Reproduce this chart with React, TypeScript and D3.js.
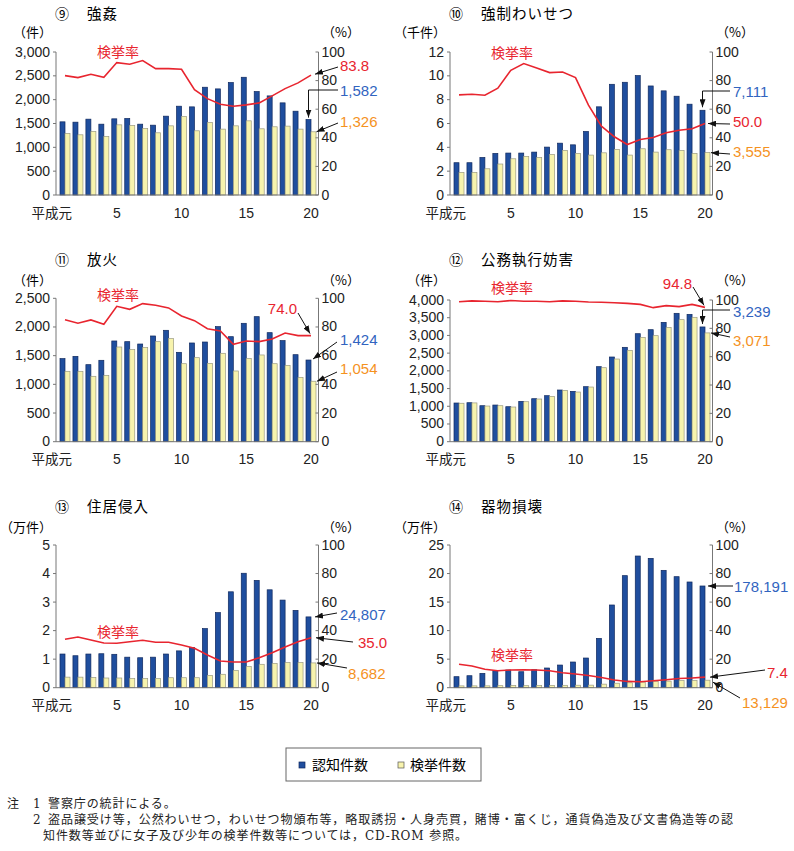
import React from "react";
import * as d3 from "d3";

// 平成元年〜20年
const YEARS = [1, 2, 3, 4, 5, 6, 7, 8, 9, 10, 11, 12, 13, 14, 15, 16, 17, 18, 19, 20];
const X_TICK_YEARS = [1, 5, 10, 15, 20];
const X_TICK_LABELS = ["平成元", "5", "10", "15", "20"];

// ⑨ 強姦
const RAPE_KNOWN = [1535, 1528, 1591, 1486, 1598, 1605, 1486, 1465, 1654, 1863, 1849, 2261, 2226, 2359, 2470, 2170, 2079, 1933, 1758, 1582];
const RAPE_CLEARED = [1291, 1263, 1333, 1228, 1472, 1458, 1396, 1305, 1451, 1647, 1347, 1521, 1382, 1451, 1556, 1389, 1431, 1445, 1382, 1326];
const RAPE_RATE = [83.5, 82.1, 84.4, 82.3, 92.6, 91.4, 94.0, 88.4, 88.4, 87.9, 73.7, 67.4, 63.5, 62.1, 63.0, 64.4, 69.3, 74.4, 78.4, 83.8];

// ⑩ 強制わいせつ
const INDECENT_KNOWN = [2710, 2710, 3150, 3490, 3520, 3520, 3600, 4020, 4350, 4210, 5330, 7400, 9290, 9460, 10020, 9150, 8740, 8290, 7620, 7111];
const INDECENT_CLEARED = [1900, 1900, 2200, 2600, 3040, 3240, 3150, 3400, 3740, 3490, 3350, 3540, 3820, 3350, 3880, 3600, 3800, 3740, 3490, 3555];
const INDECENT_RATE = [70.0, 70.5, 69.8, 74.7, 87.2, 91.9, 88.8, 85.6, 86.0, 82.1, 62.8, 48.1, 40.7, 35.3, 38.8, 40.2, 43.5, 45.3, 46.3, 50.0];

// ⑪ 放火
const ARSON_KNOWN = [1448, 1488, 1343, 1419, 1756, 1744, 1703, 1843, 1942, 1558, 1721, 1738, 2006, 1831, 2064, 2180, 1901, 1762, 1517, 1424];
const ARSON_CLEARED = [1227, 1227, 1140, 1157, 1651, 1605, 1640, 1744, 1797, 1360, 1465, 1366, 1541, 1233, 1448, 1512, 1360, 1331, 1122, 1054];
const ARSON_RATE = [85.1, 82.6, 84.9, 81.9, 94.4, 92.3, 96.3, 95.1, 93.3, 87.7, 84.4, 78.8, 77.2, 67.9, 70.2, 69.8, 71.6, 75.8, 74.0, 74.0];

// ⑫ 公務執行妨害
const OBSTRUCT_KNOWN = [1092, 1101, 1016, 1035, 988, 1139, 1214, 1299, 1459, 1421, 1553, 2118, 2391, 2664, 3049, 3162, 3369, 3624, 3595, 3239];
const OBSTRUCT_CLEARED = [1085, 1095, 1007, 1016, 979, 1129, 1205, 1280, 1449, 1402, 1543, 2089, 2334, 2579, 2946, 2993, 3228, 3445, 3511, 3071];
const OBSTRUCT_RATE = [98.8, 99.4, 99.1, 98.8, 99.6, 99.1, 99.1, 98.8, 99.4, 99.1, 98.6, 98.4, 98.1, 97.6, 96.9, 94.6, 96.0, 95.3, 96.9, 94.8];

// ⑬ 住居侵入
const TRESPASS_KNOWN = [11800, 11200, 11800, 11900, 11700, 10700, 10500, 10700, 11800, 12900, 14100, 20700, 26300, 33600, 40100, 37600, 34300, 30700, 27100, 24807];
const TRESPASS_CLEARED = [3700, 3700, 3600, 3400, 3400, 3200, 3200, 3200, 3500, 3500, 3500, 4300, 4700, 6000, 7400, 8200, 8500, 8800, 8800, 8682];
const TRESPASS_RATE = [33.9, 35.5, 33.4, 31.3, 31.1, 32.2, 33.2, 31.8, 31.8, 29.9, 27.6, 22.9, 18.7, 18.0, 18.0, 21.0, 24.5, 28.5, 32.2, 35.0];

// ⑭ 器物損壊
const DAMAGE_KNOWN = [19300, 21000, 25100, 29800, 31000, 28000, 31500, 34500, 39700, 45000, 52000, 86400, 144900, 196300, 230700, 226600, 205600, 194500, 185200, 178191];
const DAMAGE_CLEARED = [3170, 3190, 3240, 3550, 3840, 3530, 3910, 4110, 4170, 4320, 4470, 6220, 7830, 8640, 9690, 11100, 11510, 12640, 12590, 13129];
const DAMAGE_RATE = [16.4, 15.2, 12.9, 11.9, 12.4, 12.6, 12.4, 11.9, 10.5, 9.6, 8.6, 7.2, 5.4, 4.4, 4.2, 4.9, 5.6, 6.5, 6.8, 7.4];

const BLUE = "#1f4e9e";
const BLUE_EDGE = "#10295e";
const YELLOW = "#f7f3ad";
const YELLOW_EDGE = "#9a9a82";
const RED = "#e8252f";
const BLUE_TXT = "#3164c0";
const ORANGE = "#f5921e";
const AXIS = "#777";

const NUM = "'Liberation Sans', Arial, 'Noto Sans CJK JP', sans-serif";
const JP = "'Noto Sans CJK JP', 'Liberation Sans', sans-serif";

type Target = "rate" | "blue" | "yellow";
interface Ann {
  label: string;
  color: string;
  tx: number;
  ty: number;
  anchor?: "start" | "end";
  from: [number, number];
  target: Target;
  dx: number;
  dy: number;
  elbow?: boolean;
}
interface Panel {
  no: string;
  title: string;
  unit: string;
  divisor: number;
  max: number;
  tickCount: number;
  known: number[];
  cleared: number[];
  rate: number[];
  ox: number;
  top: number;
  bottom: number;
  titleY: number;
  unitY: number;
  rateLabel: [number, number];
  anns: Ann[];
}

const PANELS: Panel[] = [
  {
    no: "⑨", title: "強姦", unit: "（件）", divisor: 1, max: 3000, tickCount: 6,
    known: RAPE_KNOWN, cleared: RAPE_CLEARED, rate: RAPE_RATE,
    ox: 0, top: 52, bottom: 195, titleY: 14, unitY: 32, rateLabel: [118, 52],
    anns: [
      { label: "83.8", color: RED, tx: 340, ty: 65, from: [338, 67], target: "rate", dx: 4, dy: -1 },
      { label: "1,582", color: BLUE_TXT, tx: 340, ty: 90, from: [338, 90], target: "blue", dx: -2.5, dy: -2, elbow: true },
      { label: "1,326", color: ORANGE, tx: 340, ty: 121, from: [338, 123], target: "yellow", dx: 5.5, dy: 0 },
    ],
  },
  {
    no: "⑩", title: "強制わいせつ", unit: "（千件）", divisor: 1000, max: 12, tickCount: 6,
    known: INDECENT_KNOWN, cleared: INDECENT_CLEARED, rate: INDECENT_RATE,
    ox: 394, top: 52, bottom: 195, titleY: 14, unitY: 32, rateLabel: [118, 53],
    anns: [
      { label: "7,111", color: BLUE_TXT, tx: 339, ty: 91, from: [336, 91], target: "blue", dx: -2.5, dy: -3, elbow: true },
      { label: "50.0", color: RED, tx: 339, ty: 121, from: [336, 124], target: "rate", dx: 3, dy: 0 },
      { label: "3,555", color: ORANGE, tx: 339, ty: 151, from: [336, 154], target: "yellow", dx: 6, dy: 0 },
    ],
  },
  {
    no: "⑪", title: "放火", unit: "（件）", divisor: 1, max: 2500, tickCount: 5,
    known: ARSON_KNOWN, cleared: ARSON_CLEARED, rate: ARSON_RATE,
    ox: 0, top: 298.3, bottom: 441.7, titleY: 260, unitY: 280, rateLabel: [118, 295],
    anns: [
      { label: "74.0", color: RED, tx: 297, ty: 308, anchor: "end", from: [298, 313], target: "rate", dx: -1, dy: -2 },
      { label: "1,424", color: BLUE_TXT, tx: 340, ty: 339, from: [337, 342], target: "blue", dx: 2, dy: -1 },
      { label: "1,054", color: ORANGE, tx: 340, ty: 368, from: [337, 372], target: "yellow", dx: 6, dy: 0 },
    ],
  },
  {
    no: "⑫", title: "公務執行妨害", unit: "（件）", divisor: 1, max: 4000, tickCount: 8,
    known: OBSTRUCT_KNOWN, cleared: OBSTRUCT_CLEARED, rate: OBSTRUCT_RATE,
    ox: 394, top: 300, bottom: 441.7, titleY: 260, unitY: 280, rateLabel: [118, 288],
    anns: [
      { label: "94.8", color: RED, tx: 298, ty: 283, anchor: "end", from: [299, 287], target: "rate", dx: -1, dy: -2 },
      { label: "3,239", color: BLUE_TXT, tx: 339, ty: 311, from: [336, 310], target: "blue", dx: -2.5, dy: -3, elbow: true },
      { label: "3,071", color: ORANGE, tx: 339, ty: 340, from: [336, 337], target: "yellow", dx: 6, dy: 0 },
    ],
  },
  {
    no: "⑬", title: "住居侵入", unit: "（万件）", divisor: 10000, max: 5, tickCount: 5,
    known: TRESPASS_KNOWN, cleared: TRESPASS_CLEARED, rate: TRESPASS_RATE,
    ox: 0, top: 545, bottom: 687.7, titleY: 507, unitY: 527, rateLabel: [118, 632],
    anns: [
      { label: "24,807", color: BLUE_TXT, tx: 340, ty: 614, from: [337, 613], target: "blue", dx: 4, dy: 0 },
      { label: "35.0", color: RED, tx: 358, ty: 642, from: [353, 642], target: "rate", dx: 5, dy: 0 },
      { label: "8,682", color: ORANGE, tx: 348, ty: 673, from: [347, 668], target: "yellow", dx: 6, dy: 0 },
    ],
  },
  {
    no: "⑭", title: "器物損壊", unit: "（万件）", divisor: 10000, max: 25, tickCount: 5,
    known: DAMAGE_KNOWN, cleared: DAMAGE_CLEARED, rate: DAMAGE_RATE,
    ox: 394, top: 545, bottom: 687.7, titleY: 507, unitY: 527, rateLabel: [118, 655],
    anns: [
      { label: "178,191", color: BLUE_TXT, tx: 340, ty: 586, from: [339, 586], target: "blue", dx: 3, dy: 0 },
      { label: "7.4", color: RED, tx: 373, ty: 672, from: [371, 670], target: "rate", dx: 5, dy: 0 },
      { label: "13,129", color: ORANGE, tx: 348, ty: 702, from: [346, 698], target: "yellow", dx: 8, dy: 2 },
    ],
  },
];

const AXIS_L = 56;
const AXIS_R = 318.5;

function ChartPanel({ p }: { p: Panel }) {
  const L = p.ox + AXIS_L;
  const R = p.ox + AXIS_R;
  const x = d3.scalePoint<number>().domain(YEARS).range([L + 9, R - 7.5]);
  const yL = d3.scaleLinear().domain([0, p.max]).range([p.bottom, p.top]);
  const yR = d3.scaleLinear().domain([0, 100]).range([p.bottom, p.top]);
  const fmt = d3.format(",");
  const line = d3
    .line<number>()
    .x((_, i) => x(YEARS[i]) as number)
    .y((d) => yR(d));
  const last = YEARS.length - 1;
  const cLast = x(YEARS[last]) as number;

  const targetPt = (a: Ann): [number, number] => {
    let v = 0;
    if (a.target === "rate") v = yR(p.rate[last]);
    else if (a.target === "blue") v = yL(p.known[last] / p.divisor);
    else v = yL(p.cleared[last] / p.divisor);
    return [cLast + a.dx, v + a.dy];
  };

  return (
    <g>
      {/* title */}
      <text x={p.ox + 62} y={p.titleY + 5} fontFamily={JP} fontSize={14} textAnchor="middle">{p.no}</text>
      <text x={p.ox + 87} y={p.titleY + 5} fontFamily={JP} fontSize={14.5} letterSpacing={1}>{p.title}</text>
      <text x={p.ox + 52} y={p.unitY + 5} fontFamily={JP} fontSize={13} textAnchor="end">{p.unit}</text>
      <text x={p.ox + 322} y={p.unitY + 5} fontFamily={JP} fontSize={13}>（%）</text>

      {/* bars */}
      {YEARS.map((yr, i) => {
        const c = x(yr) as number;
        const hb = yL(p.known[i] / p.divisor);
        const hy = yL(p.cleared[i] / p.divisor);
        return (
          <g key={yr}>
            <rect x={c - 5} y={hb} width={5} height={p.bottom - hb} fill={BLUE} stroke={BLUE_EDGE} strokeWidth={0.7} />
            <rect x={c} y={hy} width={5} height={p.bottom - hy} fill={YELLOW} stroke={YELLOW_EDGE} strokeWidth={0.7} />
          </g>
        );
      })}

      {/* axes */}
      <line x1={L} x2={L} y1={p.top} y2={p.bottom} stroke={AXIS} />
      <line x1={R} x2={R} y1={p.top} y2={p.bottom} stroke={AXIS} />
      <line x1={L} x2={R} y1={p.bottom} y2={p.bottom} stroke={AXIS} />
      {yL.ticks(p.tickCount).map((t) => (
        <g key={"l" + t}>
          <line x1={L - 3} x2={L} y1={yL(t)} y2={yL(t)} stroke={AXIS} />
          <text x={L - 6} y={yL(t) + 4.5} fontFamily={NUM} fontSize={14} textAnchor="end" fill="#222">{fmt(t)}</text>
        </g>
      ))}
      {yR.ticks(5).map((t) => (
        <g key={"r" + t}>
          <line x1={R - 3} x2={R} y1={yR(t)} y2={yR(t)} stroke={AXIS} />
          <text x={R + 3} y={yR(t) + 4.5} fontFamily={NUM} fontSize={14} fill="#222">{t}</text>
        </g>
      ))}
      {X_TICK_YEARS.map((yr, i) => (
        <text
          key={"x" + yr}
          x={(x(yr) as number) + (i === 0 ? 7 : 0)}
          y={p.bottom + 22.5}
          fontFamily={i === 0 ? JP : NUM}
          fontSize={i === 0 ? 13.5 : 14}
          textAnchor={i === 0 ? "end" : "middle"}
          fill="#222"
        >
          {X_TICK_LABELS[i]}
        </text>
      ))}

      {/* rate line */}
      <path d={line(p.rate) || ""} fill="none" stroke={RED} strokeWidth={1.6} />
      <text x={p.ox + p.rateLabel[0]} y={p.rateLabel[1] + 5} fontFamily={JP} fontSize={14} textAnchor="middle" fill={RED}>検挙率</text>

      {/* value annotations */}
      {p.anns.map((a) => {
        const [tx, ty] = targetPt(a);
        const fx = p.ox + a.from[0];
        const fy = a.from[1];
        const d = a.elbow ? `M${fx},${fy}L${tx},${fy}L${tx},${ty}` : `M${fx},${fy}L${tx},${ty}`;
        return (
          <g key={a.label}>
            <path d={d} fill="none" stroke="#111" strokeWidth={1} markerEnd="url(#arrowHead)" />
            <text x={p.ox + a.tx} y={a.ty + 5.5} fontFamily={NUM} fontSize={15} fill={a.color} textAnchor={a.anchor || "start"}>{a.label}</text>
          </g>
        );
      })}
    </g>
  );
}

const NOTE_1 = "警察庁の統計による。";
const NOTE_2 = "盗品譲受け等，公然わいせつ，わいせつ物頒布等，略取誘拐・人身売買，賭博・富くじ，通貨偽造及び文書偽造等の認";
const NOTE_3 = "知件数等並びに女子及び少年の検挙件数等については，CD-ROM 参照。";

export default function App() {
  const serif = "'DejaVu Serif', 'Liberation Serif', 'Noto Sans CJK JP', serif";
  return (
    <svg width={794} height={851} style={{ position: "absolute", left: 0, top: 0, background: "#fff" }}>
      <defs>
        <marker id="arrowHead" viewBox="0 0 8 6" refX={8} refY={3} markerWidth={8} markerHeight={6} markerUnits="userSpaceOnUse" orient="auto">
          <path d="M0,0L8,3L0,6z" fill="#111" />
        </marker>
      </defs>
      <rect width={794} height={851} fill="#fff" />
      {PANELS.map((p) => (
        <ChartPanel key={p.no} p={p} />
      ))}

      {/* legend */}
      <rect x={286} y={748} width={195} height={33} fill="#fff" stroke="#666" strokeWidth={1} />
      <rect x={299} y={762} width={6} height={6} fill={BLUE} stroke={BLUE_EDGE} strokeWidth={0.7} />
      <text x={312} y={770} fontFamily={JP} fontSize={14}>認知件数</text>
      <rect x={398} y={762} width={6} height={6} fill={YELLOW} stroke="#555" strokeWidth={0.7} />
      <text x={410} y={770} fontFamily={JP} fontSize={14}>検挙件数</text>

      {/* notes */}
      <g fontFamily={serif} fontSize={12} fill="#222">
        <text x={7} y={808}>注</text>
        <text x={33} y={808}>1</text>
        <text x={48} y={808} letterSpacing={0.9}>{NOTE_1}</text>
        <text x={33} y={824}>2</text>
        <text x={48} y={824} textLength={685} lengthAdjust="spacing">{NOTE_2}</text>
        <text x={43} y={840} letterSpacing={0.9}>{NOTE_3}</text>
      </g>
    </svg>
  );
}
